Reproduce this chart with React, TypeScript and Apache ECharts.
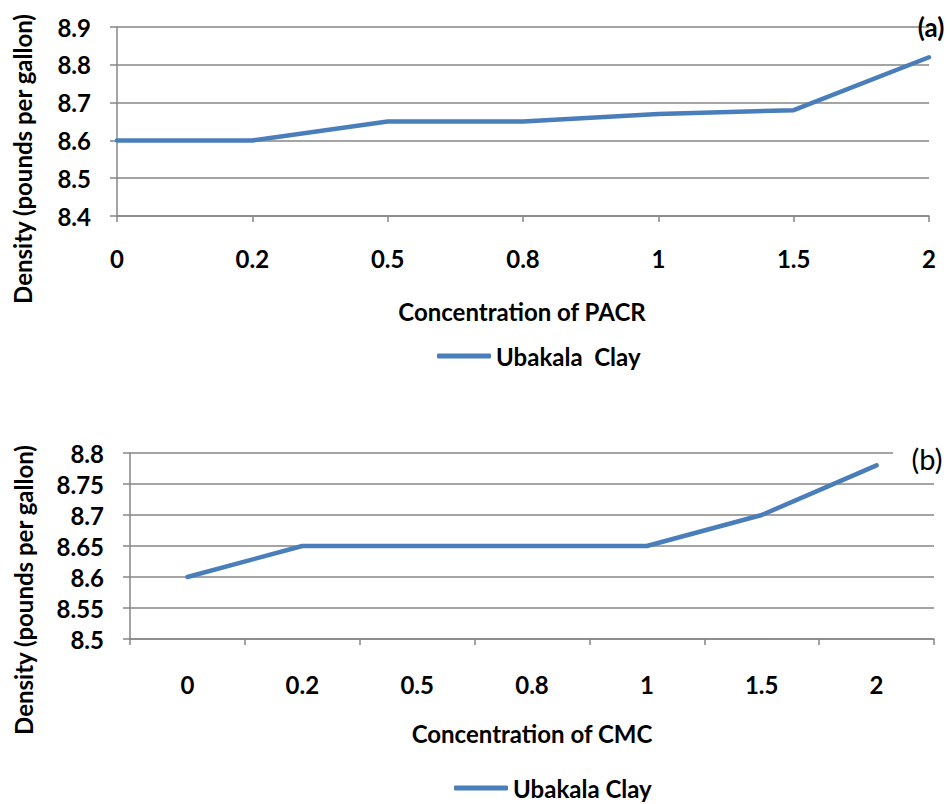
import React, { useEffect, useRef } from "react";
import * as echarts from "echarts";

const categoriesA = ["0", "0.2", "0.5", "0.8", "1", "1.5", "2"];
const densityA = [8.6, 8.6, 8.65, 8.65, 8.67, 8.68, 8.82];
const categoriesB = ["0", "0.2", "0.5", "0.8", "1", "1.5", "2"];
const densityB = [8.6, 8.65, 8.65, 8.65, 8.65, 8.7, 8.78];
const seriesNameA = "Ubakala  Clay";
const seriesNameB = "Ubakala Clay";
const yRangeA = [8.4, 8.9, 0.1];
const yRangeB = [8.5, 8.8, 0.05];

const FONT = "Lato, 'Open Sans', sans-serif";
const GRID_COLOR = "#868686";
const LINE_COLOR = "#4a7ebb";
const FS = 24;

export default function App() {
  const ref = useRef<HTMLDivElement>(null);
  useEffect(() => {
    if (!ref.current) return;
    const chart = echarts.init(ref.current, undefined, { renderer: "svg" });
    const axisLabel = (margin: number, fmt?: (v: number) => string) => ({
      color: "#000",
      fontWeight: "bold" as const,
      fontSize: FS,
      fontFamily: FONT,
      margin,
      formatter: fmt,
    });
    const textStyle = (size: number, weight: string = "bold") => ({
      fill: "#000",
      font: `${weight} ${size}px ${FONT}`,
      fontSize: size,
      fontWeight: weight,
      fontFamily: FONT,
    });
    const centered = {
      align: "center",
      verticalAlign: "middle",
      textAlign: "center",
      textVerticalAlign: "middle",
    };
    const legendBase = {
      icon: "roundRect",
      itemWidth: 54,
      itemHeight: 5,
      itemGap: 5,
      textStyle: { color: "#000", fontSize: FS, fontWeight: "bold", fontFamily: FONT, lineHeight: 24 },
    };
    chart.setOption({
      animation: false,
      backgroundColor: "#fff",
      grid: [
        { left: 117, top: 27, width: 812, height: 189 },
        { left: 130, top: 453, width: 804, height: 186 },
      ],
      xAxis: [
        {
          type: "category",
          gridIndex: 0,
          data: categoriesA,
          boundaryGap: false,
          axisLine: { lineStyle: { color: GRID_COLOR, width: 1.5 } },
          axisTick: { show: true, length: 6, lineStyle: { color: GRID_COLOR, width: 1.5 } },
          axisLabel: axisLabel(30),
          splitLine: { show: false },
        },
        {
          type: "category",
          gridIndex: 1,
          data: categoriesB,
          boundaryGap: true,
          axisLine: { lineStyle: { color: GRID_COLOR, width: 1.5 } },
          axisTick: { show: true, length: 6, lineStyle: { color: GRID_COLOR, width: 1.5 } },
          axisLabel: axisLabel(33),
          splitLine: { show: false },
        },
      ],
      yAxis: [
        {
          type: "value",
          gridIndex: 0,
          min: yRangeA[0],
          max: yRangeA[1],
          interval: yRangeA[2],
          axisLine: { show: true, lineStyle: { color: GRID_COLOR, width: 1.5 } },
          axisTick: { show: true, length: 7, lineStyle: { color: GRID_COLOR, width: 1.5 } },
          axisLabel: axisLabel(26, (v: number) => v.toFixed(1)),
          splitLine: { show: true, lineStyle: { color: GRID_COLOR, width: 1.5 } },
        },
        {
          type: "value",
          gridIndex: 1,
          min: yRangeB[0],
          max: yRangeB[1],
          interval: yRangeB[2],
          axisLine: { show: true, lineStyle: { color: GRID_COLOR, width: 1.5 } },
          axisTick: { show: true, length: 7, lineStyle: { color: GRID_COLOR, width: 1.5 } },
          axisLabel: axisLabel(26, (v: number) => String(parseFloat(v.toFixed(2)))),
          splitLine: { show: true, lineStyle: { color: GRID_COLOR, width: 1.5 } },
        },
      ],
      legend: [
        { ...legendBase, data: [seriesNameA], left: 432, top: 339 },
        { ...legendBase, data: [seriesNameB], left: 449, top: 771 },
      ],
      series: [
        {
          type: "line",
          name: seriesNameA,
          xAxisIndex: 0,
          yAxisIndex: 0,
          data: densityA,
          symbol: "none",
          lineStyle: { color: LINE_COLOR, width: 4.5, cap: "round" },
          itemStyle: { color: LINE_COLOR },
        },
        {
          type: "line",
          name: seriesNameB,
          xAxisIndex: 1,
          yAxisIndex: 1,
          data: densityB,
          symbol: "none",
          lineStyle: { color: LINE_COLOR, width: 4.5, cap: "round" },
          itemStyle: { color: LINE_COLOR },
        },
      ],
      graphic: [
        {
          type: "text",
          x: 22,
          y: 159,
          rotation: Math.PI / 2,
          z: 100,
          style: { text: "Density (pounds per gallon)", ...textStyle(FS), ...centered },
        },
        {
          type: "text",
          x: 23,
          y: 590,
          rotation: Math.PI / 2,
          z: 100,
          style: { text: "Density (pounds per gallon)", ...textStyle(FS), ...centered },
        },
        {
          type: "text",
          x: 522,
          y: 311,
          z: 100,
          style: { text: "Concentration of PACR", ...textStyle(FS), ...centered },
        },
        {
          type: "text",
          x: 532,
          y: 733,
          z: 100,
          style: { text: "Concentration of CMC", ...textStyle(FS), ...centered },
        },
        {
          type: "rect",
          z: 99,
          shape: { x: 893, y: 440, width: 55, height: 36 },
          style: { fill: "#fff" },
        },
        {
          type: "text",
          x: 931,
          y: 27,
          z: 100,
          style: { text: "(a)", ...textStyle(26), ...centered },
        },
        {
          type: "text",
          x: 927,
          y: 458,
          z: 100,
          style: { text: "(b)", ...textStyle(29, "normal"), ...centered },
        },
      ],
    });
    return () => chart.dispose();
  }, []);
  return (
    <div
      ref={ref}
      style={{ position: "fixed", left: 0, top: 0, width: 948, height: 804 }}
    />
  );
}
